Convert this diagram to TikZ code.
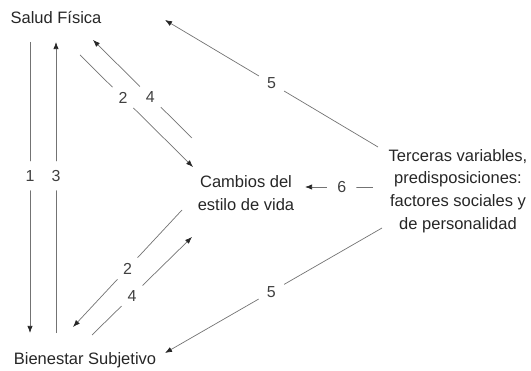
\documentclass[tikz,border=0pt]{standalone}
\usepackage{fontspec}
\setmainfont{Liberation Sans}
\usetikzlibrary{arrows.meta, calc}
\tikzset{>={Latex[length=6pt,width=4.5pt,color=black!85]}}

\begin{document}
\begin{tikzpicture}[x=0.03cm, y=-0.03cm,
    box/.style={text=black!85, align=center, font=\fontsize{14.1}{19.5}\selectfont},
    lnk/.style={->, black!55, line width=0.6pt},
    num/.style={circle, fill=white, inner sep=0pt, minimum size=25pt, text=black!75, font=\fontsize{13.6}{16}\selectfont}]
		\useasboundingbox (0,0) rectangle (531,371);
		\node[box] (salud) at (56,18) {Salud Física};
		\node[box] (bien) at (85,360) {Bienestar Subjetivo};
		\node[box] (cambios) at (246,193) {Cambios del\\estilo de vida};
		\node[box] (terceras) at (458,191) {Terceras variables,\\predisposiciones:\\factores sociales y\\de personalidad};
		
		\draw[lnk] ($(salud)+(-26,24)$) -- node[num, pos=0.46] {1} ($(bien)+(-55,-27)$);
		\draw[lnk] ($(bien)+(-29,-27)$) -- node[num, pos=0.54] {3} ($(salud)+(0,24)$);
		\draw[lnk] ($(salud)+(24,37)$) -- node[num, pos=0.38] {2} ($(cambios)+(-53,-26)$);
		\draw[lnk] ($(cambios)+(-54,-55)$) -- node[num, pos=0.42] {4} ($(salud)+(37,22)$);
		\draw[lnk] ($(cambios)+(-64,17)$) -- node[num, pos=0.5] {2} ($(bien)+(-12,-33)$);
		\draw[lnk] ($(bien)+(7,-25)$) -- node[num, pos=0.4] {4} ($(cambios)+(-54,44)$);
		\draw[lnk] ($(terceras)+(-80,-44)$) -- node[num, pos=0.5] {5} ($(salud)+(109,2)$);
		\draw[lnk] ($(terceras)+(-76,37)$) -- node[num, pos=0.51] {5} ($(bien)+(80,-7)$);
		\draw[lnk] ($(terceras)+(-85,-4)$) -- node[num, pos=0.46] {6} ($(cambios)+(59,-6)$);
        \end{tikzpicture}
\end{document}
